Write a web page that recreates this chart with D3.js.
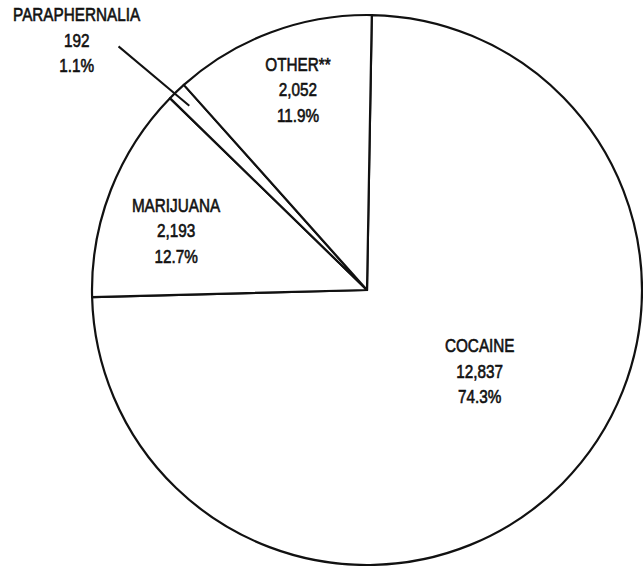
<!DOCTYPE html>
<html>
<head>
<meta charset="utf-8">
<script src="https://cdn.jsdelivr.net/npm/d3@7"></script>
<style>
  html, body { margin: 0; padding: 0; background: #fff; }
  #chart text {
    font-family: "Liberation Sans", Arial, sans-serif;
    font-size: 18px;
    fill: #111;
    stroke: #111;
    stroke-width: 0.6px;
  }
</style>
</head>
<body>
<div id="chart"></div>
<script>
// slices, clockwise from the top
const categories = ["COCAINE", "MARIJUANA", "PARAPHERNALIA", "OTHER**"];
const counts = [12837, 2193, 192, 2052];
const percentLabels = ["74.3%", "12.7%", "1.1%", "11.9%"];

const width = 643, height = 566;
const cx = 367, cy = 290, radius = 275;
const rad = deg => deg * Math.PI / 180;
const startAngle = rad(1);

// where each text block sits: angle (deg, clockwise from top) and distance from centre
const labelPlace = {
    "COCAINE": [125.8, 139],
    "MARIJUANA": [287.3, 200],
    "PARAPHERNALIA": [310.7, 383],
    "OTHER**": [341, 212]
};
const lineGap = 25.5;
const squeeze = 0.85; // the original type is condensed

const svg = d3.select("#chart").append("svg")
    .attr("width", width)
    .attr("height", height);

const g = svg.append("g")
    .attr("transform", `translate(${cx},${cy})`);

const pie = d3.pie()
    .sort(null)
    .value(d => d.count)
    .startAngle(startAngle)
    .endAngle(startAngle + 2 * Math.PI);

const arc = d3.arc()
    .innerRadius(0)
    .outerRadius(radius);

const data = categories.map((c, i) => ({ name: c, count: counts[i], pct: percentLabels[i] }));
const arcs = pie(data);

g.selectAll("path.slice")
    .data(arcs)
    .enter()
    .append("path")
    .attr("class", "slice")
    .attr("d", arc)
    .attr("fill", "#fff")
    .attr("stroke", "#111")
    .attr("stroke-width", 2.2)
    .attr("stroke-linejoin", "round");

const polar = (deg, r) => [r * Math.sin(rad(deg)), -r * Math.cos(rad(deg))];

// leader line for the thin paraphernalia slice
const para = arcs.find(d => d.data.name === "PARAPHERNALIA");
const paraMid = (para.startAngle + para.endAngle) / 2 * 180 / Math.PI;
const p0 = polar(paraMid - 1.8, 348);
const p1 = polar(paraMid - 0.2, 256);
g.append("line")
    .attr("x1", p0[0]).attr("y1", p0[1])
    .attr("x2", p1[0]).attr("y2", p1[1])
    .attr("stroke", "#111")
    .attr("stroke-width", 2);

// labels
const labels = g.selectAll("g.label")
    .data(arcs)
    .enter()
    .append("g")
    .attr("class", "label")
    .attr("transform", d => {
        const [a, r] = labelPlace[d.data.name];
        const p = polar(a, r);
        return `translate(${p[0]},${p[1]}) scale(${squeeze},1)`;
    });

labels.each(function(d) {
    const lines = [d.data.name, d3.format(",")(d.data.count), d.data.pct];
    d3.select(this).selectAll("text")
        .data(lines)
        .enter()
        .append("text")
        .attr("text-anchor", "middle")
        .attr("y", (t, i) => (i - 1) * lineGap + 6.5)
        .text(t => t);
});
</script>
</body>
</html>
